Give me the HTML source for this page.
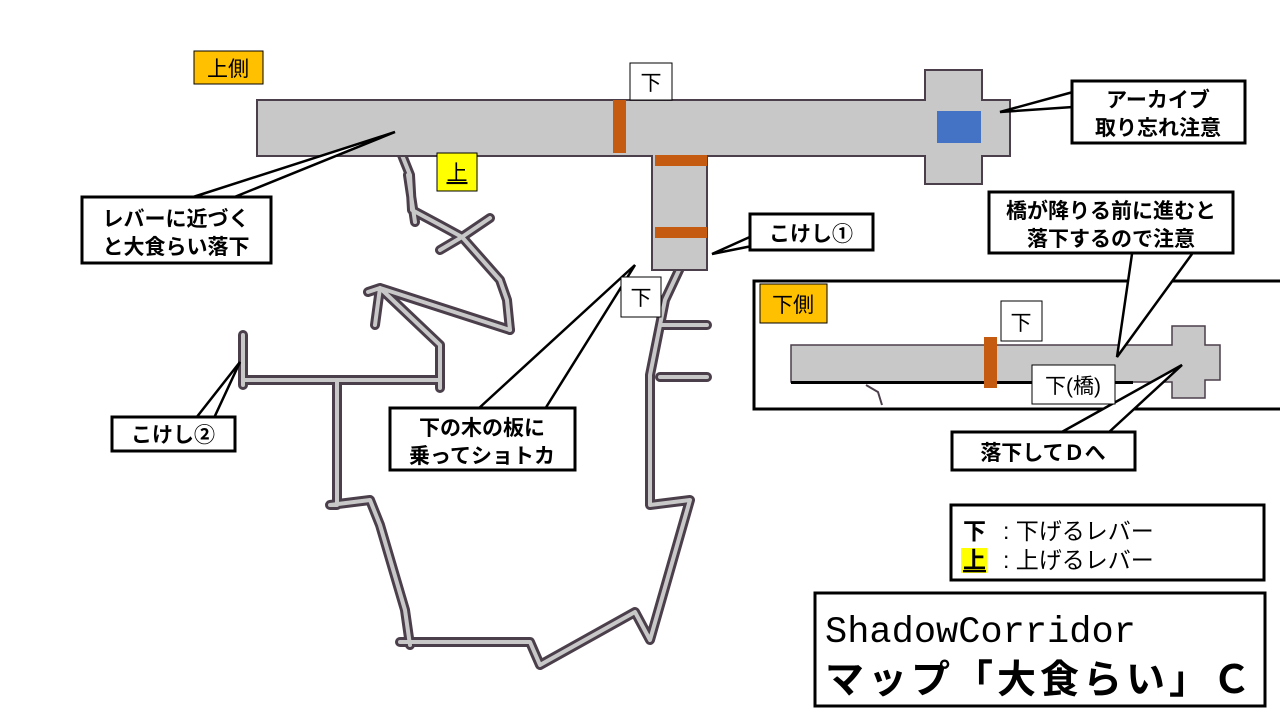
<!DOCTYPE html>
<html><head><meta charset="utf-8"><style>
body{margin:0;background:#fff;}
svg{display:block}
text{font-family:"Liberation Sans","Noto Sans CJK JP",sans-serif;}
text.mono{font-family:"Liberation Mono",monospace;}
</style></head><body>
<svg width="1280" height="720" viewBox="0 0 1280 720">
<g fill="none" stroke-linejoin="round" stroke-linecap="round">
<g stroke="#4a3f4a" stroke-width="10">
<path d="M400 150 L410 175 L412 210 L440 225 L462 237 M490 218 L462 237 L440 250 M462 237 L500 280 L507 300 L510 330 M408 175 L415 222"/>
<path d="M368 292 L380 288 L510 330 M380 288 L440 345 L440 388 M380 288 L375 325"/>
<path d="M243 335 L243 385 L243 380 L440 380 M337 380 L337 505 L330 505 L370 500 L380 525 L405 610 L410 645 M400 642 L530 642 L540 665 L635 612 L650 640 L690 500 L650 505 L650 375 L665 300 L680 268 M660 325 L707 325 M660 377 L707 377"/>
</g>
<g stroke="#c8c8c8" stroke-width="4">
<path d="M400 150 L410 175 L412 210 L440 225 L462 237 M490 218 L462 237 L440 250 M462 237 L500 280 L507 300 L510 330 M408 175 L415 222"/>
<path d="M368 292 L380 288 L510 330 M380 288 L440 345 L440 388 M380 288 L375 325"/>
<path d="M243 335 L243 385 L243 380 L440 380 M337 380 L337 505 L330 505 L370 500 L380 525 L405 610 L410 645 M400 642 L530 642 L540 665 L635 612 L650 640 L690 500 L650 505 L650 375 L665 300 L680 268 M660 325 L707 325 M660 377 L707 377"/>
</g>
</g>
<g fill="#c8c8c8" stroke="#4a3f4a" stroke-width="2">
<path d="M257 100 H925 V70 H982 V100 H1010 V156 H982 V184 H925 V156 H707 V270 H652 V156 H257 Z"/>
</g>
<rect x="937" y="111" width="44" height="32" fill="#4472c4"/>
<rect x="613" y="100" width="13" height="53" fill="#c55a11"/>
<rect x="655" y="155" width="52" height="11" fill="#c55a11"/>
<rect x="655" y="227" width="52" height="11" fill="#c55a11"/>
<rect x="754" y="281" width="540" height="128" fill="#fff" stroke="#000" stroke-width="3"/>
<path d="M791 345 H1172 V326 H1205 V345 H1220 V380 H1205 V398 H1172 V382 H791 Z" fill="#c8c8c8" stroke="#4a3f4a" stroke-width="1.5"/>
<rect x="791" y="381" width="342" height="3" fill="#000"/>
<rect x="984" y="337" width="13" height="51" fill="#c55a11"/>
<path d="M866 385 L878 392 L882 405" stroke="#4a3f4a" stroke-width="2" fill="none"/>
<g fill="#fff" stroke="#000" stroke-width="2.5">
<path d="M190 198 L395 132 L232 198"/>
<path d="M478 409 L635 265 L545 409"/>
<path d="M752 236 L712 254 L752 246"/>
<path d="M196 418 L240 362 L214 418"/>
<path d="M1073 92 L1000 112 L1073 107"/>
<path d="M1132 254 L1117 357 L1192 254"/>
<path d="M1060 433 L1182 365 L1108 433"/>
</g>
<g stroke="#000" stroke-width="3" fill="#fff">
<rect x="82" y="197" width="189" height="66"/>
<rect x="390" y="408" width="185" height="62"/>
<rect x="112" y="417" width="123" height="34"/>
<rect x="750" y="214" width="123" height="36"/>
<rect x="1072" y="81" width="173" height="62"/>
<rect x="989" y="192" width="244" height="61"/>
<rect x="952" y="432" width="183" height="38"/>
<rect x="951" y="505" width="313" height="75"/>
<rect x="815" y="593" width="450" height="113"/>
</g>
<g stroke="#000" stroke-width="1">
<rect x="194" y="51" width="69" height="33" fill="#ffc000"/>
<rect x="760" y="284" width="67" height="39" fill="#ffc000"/>
<rect x="437" y="153" width="40" height="38" fill="#ffff00"/>
<rect x="630" y="63" width="42" height="37" fill="#fff"/>
<rect x="621" y="277" width="40" height="40" fill="#fff"/>
<rect x="1001" y="301" width="41" height="40" fill="#fff"/>
<rect x="1032" y="365" width="83" height="39" fill="#fff"/>
</g>
<g font-size="21" fill="#000" text-anchor="middle">
<text x="228" y="76">上側</text>
<text x="793" y="312">下側</text>
<text x="457" y="180" text-decoration="underline">上</text>
<text x="651" y="90">下</text>
<text x="641" y="305">下</text>
<text x="1021" y="330">下</text>
<text x="1073" y="393">下(橋)</text>
</g>
<g font-size="21" font-weight="bold" fill="#000" text-anchor="middle">
<text x="176" y="226">レバーに近づく</text>
<text x="176" y="254">と大食らい落下</text>
<text x="482" y="435">下の木の板に</text>
<text x="482" y="463">乗ってショトカ</text>
<text x="173" y="442">こけし②</text>
<text x="811" y="241">こけし①</text>
<text x="1158" y="107">アーカイブ</text>
<text x="1158" y="135">取り忘れ注意</text>
<text x="1111" y="218">橋が降りる前に進むと</text>
<text x="1111" y="246">落下するので注意</text>
<text x="1043" y="460">落下してＤへ</text>
</g>
<rect x="961" y="548" width="26" height="25" fill="#ffff00"/>
<g font-size="23" fill="#000">
<text x="963" y="539" font-weight="bold">下</text>
<text x="1003" y="539">:  下げるレバー</text>
<text x="963" y="568" font-weight="bold" text-decoration="underline">上</text>
<text x="1003" y="568">:  上げるレバー</text>
</g>
<text class="mono" x="825" y="642" font-size="37" fill="#000">ShadowCorridor</text>
<text x="825" y="693" font-size="39" font-weight="bold" fill="#000" letter-spacing="4">マップ「大食らい」Ｃ</text>
</svg>
</body></html>
